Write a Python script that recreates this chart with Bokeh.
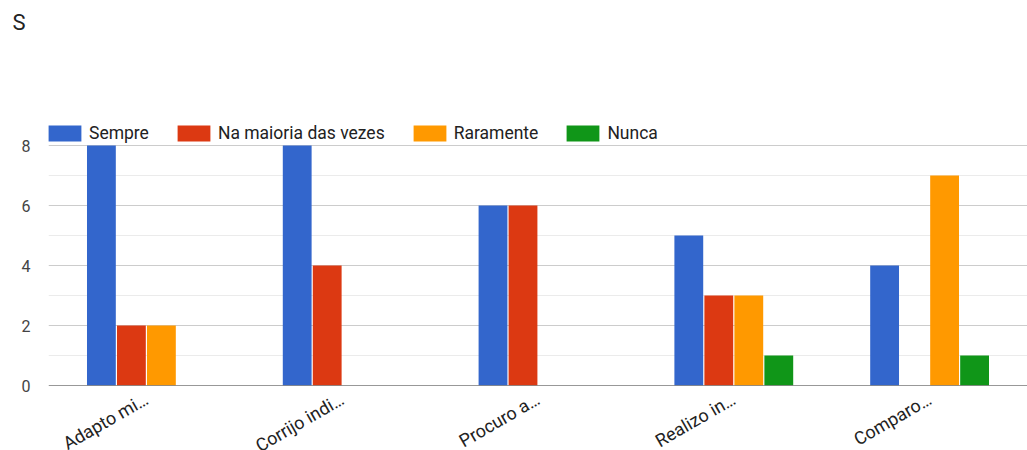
import math
from bokeh.plotting import figure
from bokeh.models import (FactorRange, Range1d, FixedTicker, Grid, Span, Legend,
                          LegendItem, ColumnDataSource, Title)
from bokeh.transform import dodge
from bokeh.embed import file_html
from bokeh.resources import INLINE

categories = ["Adapto mi…", "Corrijo indi…", "Procuro a…", "Realizo in…", "Comparo…"]
series_names = ["Sempre", "Na maioria das vezes", "Raramente", "Nunca"]
sempre = [8, 8, 6, 5, 4]
maioria = [2, 4, 6, 3, 0]
raramente = [2, 0, 0, 3, 7]
nunca = [0, 0, 0, 1, 1]
colors = ["#3366cc", "#dc3912", "#ff9900", "#109618"]
y_ticks = [0, 2, 4, 6, 8]

FONT = "Roboto"

p = figure(width=1027, height=450, frame_width=979, frame_height=270,
           output_backend="svg", toolbar_location=None,
           x_range=FactorRange(factors=categories, range_padding=0),
           y_range=Range1d(0, 9),
           min_border_left=48, min_border_right=0, min_border_top=115, min_border_bottom=65,
           title="S")
p.outline_line_color = None
p.background_fill_color = "white"
p.border_fill_color = "white"

p.title.text_font = FONT
p.title.text_font_size = "22px"
p.title.text_font_style = "normal"
p.title.text_color = "#222222"
p.title.offset = -36
p.title.standoff = 0

# invisible spacer between the title and the plot area
spacer = Title(text=" ", text_font_size="1px", standoff=78, text_color="white")
p.add_layout(spacer, "above")

src = ColumnDataSource(dict(cat=categories, s0=sempre, s1=maioria, s2=raramente, s3=nunca))
slot = 0.1532
offsets = [-1.5 * slot, -0.5 * slot, 0.5 * slot, 1.5 * slot]
renderers = []
for i, key in enumerate(["s0", "s1", "s2", "s3"]):
    r = p.vbar(x=dodge("cat", offsets[i], range=p.x_range), top=key, width=slot - 0.006,
               bottom=0, source=src, fill_color=colors[i], line_color=None)
    renderers.append(r)

# grids
p.xgrid.visible = False
p.ygrid.ticker = FixedTicker(ticks=[2, 4, 6, 8])
p.ygrid.grid_line_color = "#cccccc"
p.ygrid.grid_line_width = 1
minor = Grid(dimension=1, ticker=FixedTicker(ticks=[1, 3, 5, 7, 9]),
             grid_line_color="#ebebeb", grid_line_width=1)
p.add_layout(minor)
p.add_layout(Span(location=0, dimension="width", line_color="#333333", line_width=1))

# y axis
p.yaxis.ticker = FixedTicker(ticks=y_ticks)
p.yaxis.axis_line_color = None
p.yaxis.major_tick_line_color = None
p.yaxis.minor_tick_line_color = None
p.yaxis.major_tick_out = 0
p.yaxis.major_label_standoff = 18
p.yaxis.major_label_text_font = FONT
p.yaxis.major_label_text_font_size = "16px"
p.yaxis.major_label_text_color = "#444444"

# x axis
p.xaxis.axis_line_color = None
p.xaxis.major_tick_line_color = None
p.xaxis.major_tick_out = 0
p.xaxis.major_label_standoff = 12
p.xaxis.major_label_orientation = math.pi / 6
p.xaxis.major_label_text_font = FONT
p.xaxis.major_label_text_font_size = "18px"
p.xaxis.major_label_text_color = "#222222"

legend = Legend(items=[LegendItem(label=n, renderers=[r]) for n, r in zip(series_names, renderers)],
                orientation="horizontal", location=(-4, 242),
                glyph_width=41, glyph_height=20, label_standoff=4, spacing=24,
                padding=0, margin=0, label_height=20,
                label_text_font=FONT, label_text_font_size="17.5px", label_text_color="#222222",
                background_fill_alpha=0, border_line_color=None)
p.add_layout(legend)

open("out.html", "w").write(file_html(p, INLINE))
